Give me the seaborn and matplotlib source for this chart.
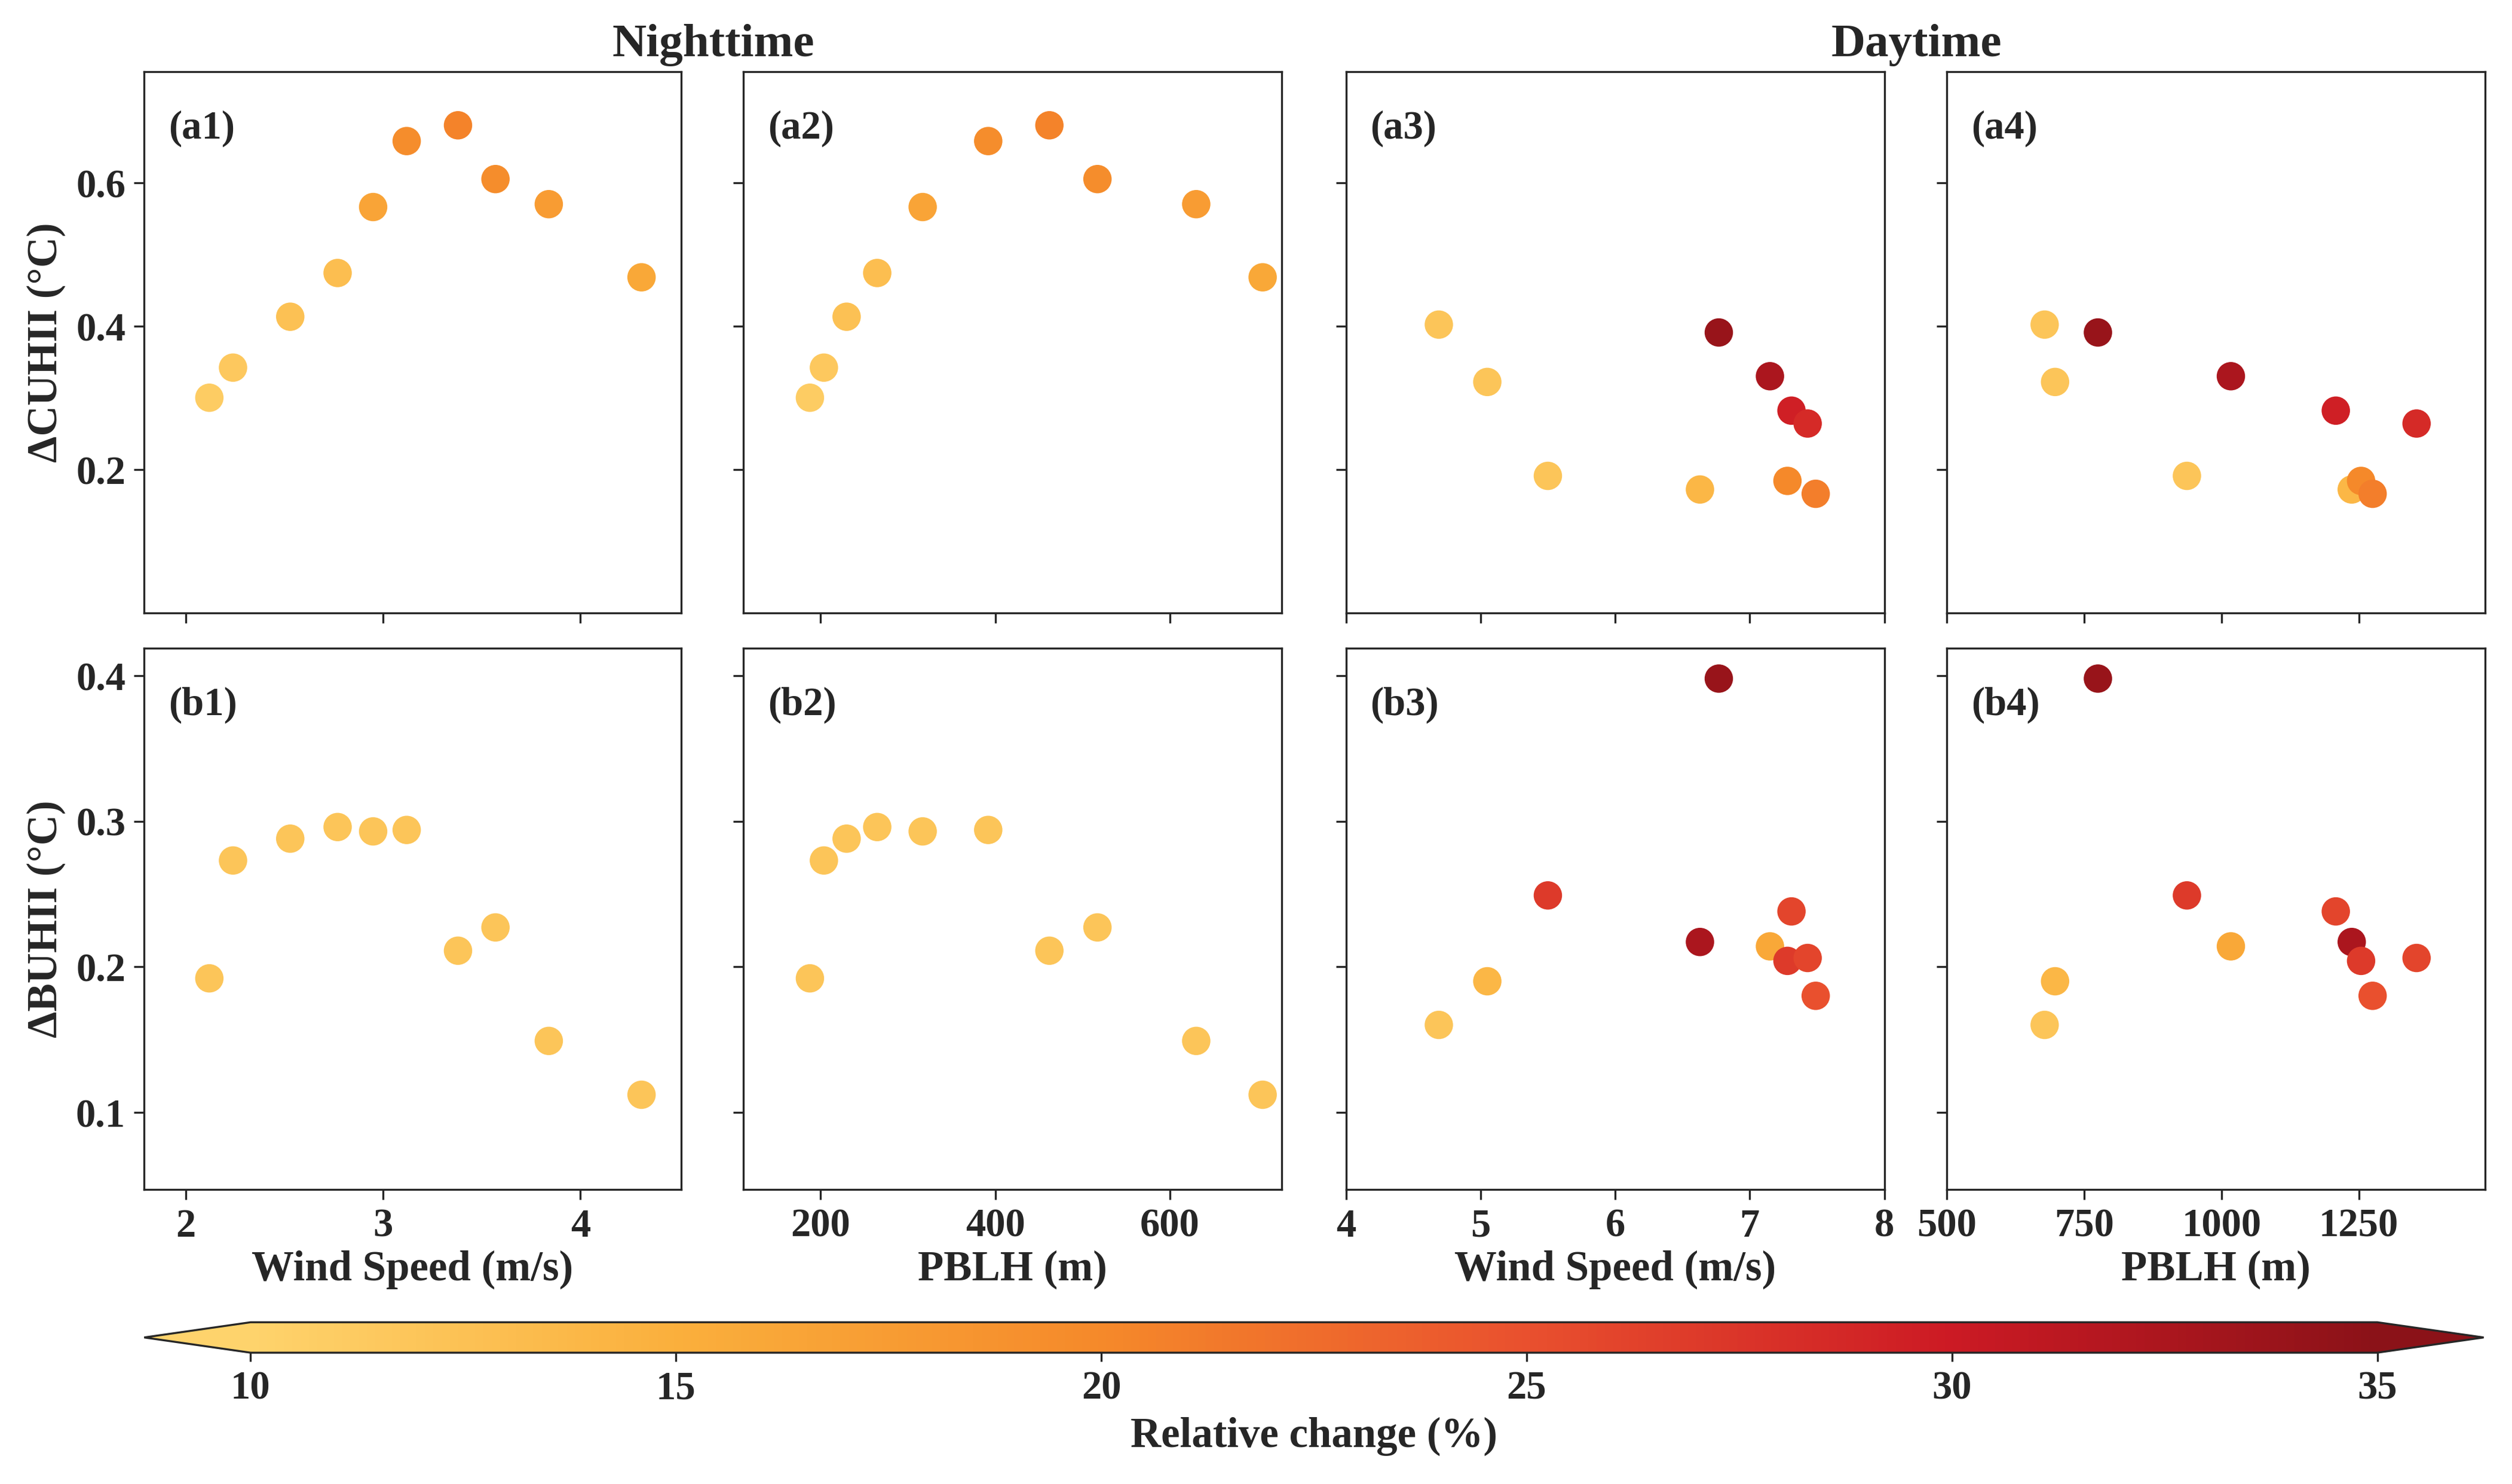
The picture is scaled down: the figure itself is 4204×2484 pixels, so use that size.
import numpy as np
import pandas as pd
import matplotlib.pyplot as plt
import matplotlib as mpl
from matplotlib.colors import LinearSegmentedColormap, Normalize
import seaborn as sns

sns.set_style("ticks")
plt.rcParams['font.family'] = ['Liberation Serif', 'DejaVu Serif']
plt.rcParams['font.weight'] = 'bold'
plt.rcParams['axes.labelweight'] = 'bold'

# Nighttime data
night_ws = [2.12, 2.24, 2.53, 2.77, 2.95, 3.12, 3.38, 3.57, 3.84, 4.31]
night_pblh = [188, 204, 230, 265, 317, 392, 462, 517, 630, 706]
night_cuhii = [0.300, 0.342, 0.413, 0.474, 0.566, 0.658, 0.680, 0.605, 0.570, 0.468]
night_cuhii_rel = [11.0, 11.5, 12.5, 13.0, 16.5, 19.5, 20.5, 19.5, 17.5, 16.0]
night_buhii = [0.192, 0.273, 0.288, 0.296, 0.293, 0.294, 0.211, 0.227, 0.149, 0.112]
night_buhii_rel = [12.0, 12.0, 12.0, 12.0, 12.0, 12.0, 12.0, 12.0, 12.0, 12.0]

# Daytime data
day_ws = [4.69, 5.05, 5.50, 6.63, 6.77, 7.15, 7.28, 7.31, 7.43, 7.49]
day_pblh = [678, 697, 937, 1237, 775, 1017, 1254, 1208, 1355, 1275]
day_cuhii = [0.402, 0.322, 0.191, 0.172, 0.391, 0.330, 0.184, 0.282, 0.264, 0.166]
day_cuhii_rel = [12.0, 12.0, 12.0, 14.0, 34.0, 32.5, 20.0, 29.5, 28.5, 21.0]
day_buhii = [0.160, 0.190, 0.249, 0.217, 0.398, 0.214, 0.204, 0.238, 0.206, 0.180]
day_buhii_rel = [12.0, 14.0, 27.0, 32.5, 34.0, 16.0, 27.0, 26.0, 26.0, 25.0]

cmap = LinearSegmentedColormap.from_list(
    'rel', ['#fed36c', '#faaf3c', '#f5892a', '#e9502e', '#cc1a24', '#8b1218'])
norm = Normalize(10, 35)

fig = plt.figure(figsize=(14.016, 8.283), dpi=300)
W, H = 1568, 927
cols = [(90, 425), (464, 800), (840, 1176), (1215, 1551)]
rows = [(45, 383), (405, 743)]
axes = [[None] * 4 for _ in range(2)]
for r, (t, b) in enumerate(rows):
    for c, (l, rr) in enumerate(cols):
        axes[r][c] = fig.add_axes([l / W, 1 - b / H, (rr - l) / W, (b - t) / H])

panels = [
    (night_ws, night_cuhii, night_cuhii_rel), (night_pblh, night_cuhii, night_cuhii_rel),
    (day_ws, day_cuhii, day_cuhii_rel), (day_pblh, day_cuhii, day_cuhii_rel),
    (night_ws, night_buhii, night_buhii_rel), (night_pblh, night_buhii, night_buhii_rel),
    (day_ws, day_buhii, day_buhii_rel), (day_pblh, day_buhii, day_buhii_rel),
]
labels = ['(a1)', '(a2)', '(a3)', '(a4)', '(b1)', '(b2)', '(b3)', '(b4)']
xlims = [(1.79, 4.51), (112, 728), (4, 8), (500, 1480)]
xticks = [[2, 3, 4], [200, 400, 600], [4, 5, 6, 7, 8], [500, 750, 1000, 1250]]
xlabels = ['Wind Speed (m/s)', 'PBLH (m)', 'Wind Speed (m/s)', 'PBLH (m)']

for i, (x, y, rel) in enumerate(panels):
    r, c = divmod(i, 4)
    ax = axes[r][c]
    df = pd.DataFrame({'x': x, 'y': y, 'rel': rel})
    ax.scatter(df['x'], df['y'], c=df['rel'], cmap=cmap, norm=norm, s=130, edgecolors='none', zorder=3)
    ax.set_xlim(xlims[c])
    ax.set_xticks(xticks[c])
    if r == 0:
        ax.set_ylim(0.0, 0.755)
        ax.set_yticks([0.2, 0.4, 0.6])
        ax.set_xticklabels([])
    else:
        ax.set_ylim(0.047, 0.419)
        ax.set_yticks([0.1, 0.2, 0.3, 0.4])
        ax.set_xlabel(xlabels[c], fontsize=17, labelpad=2)
    if c > 0:
        ax.set_yticklabels([])
    ax.tick_params(labelsize=16, length=4)
    for lab in ax.get_xticklabels() + ax.get_yticklabels():
        lab.set_fontweight('bold')
    ax.text(0.045, 0.93, labels[i], transform=ax.transAxes, fontsize=16,
            fontweight='bold', va='top')

axes[0][0].set_ylabel('ΔCUHII (°C)', fontsize=17)
axes[1][0].set_ylabel('ΔBUHII (°C)', fontsize=17)

fig.text(445 / W, 1 - 28 / H, 'Nighttime', ha='center', va='center', fontsize=19, fontweight='bold')
fig.text(1196 / W, 1 - 28 / H, 'Daytime', ha='center', va='center', fontsize=19, fontweight='bold')

cax = fig.add_axes([90 / W, 1 - 845 / H, (1550 - 90) / W, 19 / H])
sm = mpl.cm.ScalarMappable(norm=norm, cmap=cmap)
cb = fig.colorbar(sm, cax=cax, orientation='horizontal', extend='both', extendfrac=0.05)
cb.set_ticks([10, 15, 20, 25, 30, 35])
cb.ax.tick_params(labelsize=16)
for lab in cb.ax.get_xticklabels():
    lab.set_fontweight('bold')
cb.set_label('Relative change (%)', fontsize=17, fontweight='bold')

fig.savefig('out.png', dpi=300)
